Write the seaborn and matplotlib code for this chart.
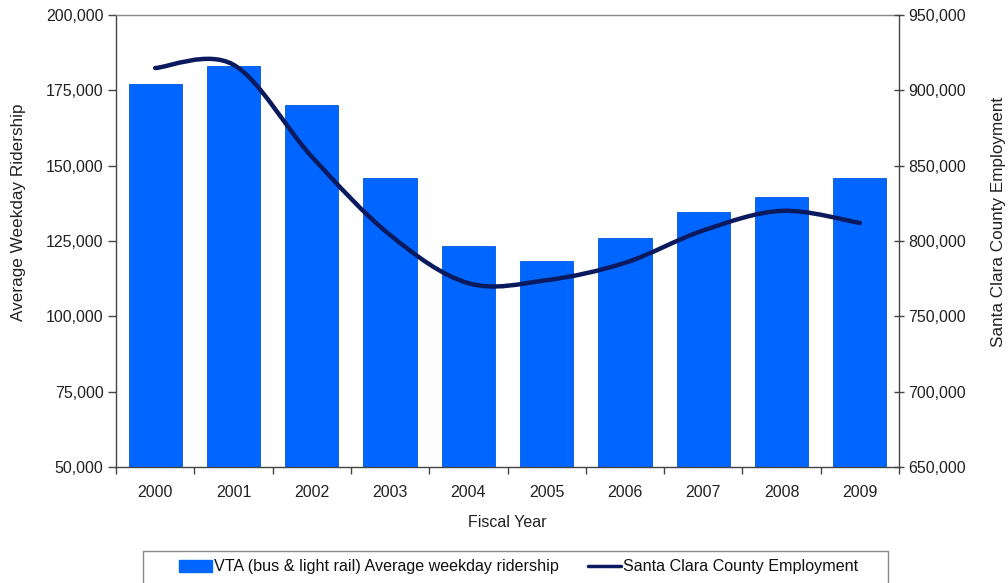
import numpy as np
import pandas as pd
import matplotlib
matplotlib.use("Agg")
import matplotlib.pyplot as plt
from matplotlib.path import Path
from matplotlib.patches import PathPatch, Patch, Rectangle
from matplotlib.lines import Line2D
from matplotlib.ticker import FuncFormatter, MultipleLocator
import seaborn as sns

years = ["2000", "2001", "2002", "2003", "2004", "2005", "2006", "2007", "2008", "2009"]
ridership = [177100, 183100, 170100, 145900, 123300, 118400, 126000, 134600, 139600, 145900]
employment = [914800, 917000, 856000, 804000, 772000, 774000, 785500, 807000, 820000, 812000]

bar_label = "VTA (bus & light rail) Average weekday ridership"
line_label = "Santa Clara County Employment"

sns.set_theme(style="white")
plt.rcParams['font.family'] = ['Liberation Sans', 'DejaVu Sans']

W, H = 1008, 583
fig = plt.figure(figsize=(W / 100, H / 100), dpi=100)
ax = fig.add_axes([116 / W, 1 - 467 / H, 783 / W, 452 / H])

tick_fs = 11.5
df = pd.DataFrame({"year": years, "ridership": ridership})
bar_color = "#0066FF"
sns.barplot(data=df, x="year", y="ridership", color=bar_color, saturation=1,
            width=0.68, ax=ax, edgecolor="#0058E0", linewidth=0.6)

ax.set_ylim(50000, 200000)
ax.set_xlim(-0.5, len(years) - 0.5)
ax.yaxis.set_major_locator(MultipleLocator(25000))
fmt = FuncFormatter(lambda v, p: f"{int(v):,}")
ax.yaxis.set_major_formatter(fmt)
ax.set_xticks(np.arange(len(years) + 1) - 0.5, minor=True)
ax.set_xticks(np.arange(len(years)))
ax.set_xticklabels(years)
ax.tick_params(axis="x", which="major", length=0, pad=13, labelsize=tick_fs, colors="#222222")
ax.tick_params(axis="x", which="minor", length=5, width=1, direction="out", color="#444444", bottom=True)
ax.tick_params(axis="y", length=6, width=1, direction="out", left=True, labelsize=tick_fs,
               colors="#222222", color="#444444", pad=3)
ax.set_xlabel("Fiscal Year", fontsize=tick_fs, labelpad=11, color="#222222")
ax.set_ylabel("Average Weekday Ridership", fontsize=12.3, color="#222222", va="center")
ax.yaxis.set_label_coords((19 - 116) / 783, (467 - 212) / 452)

for s in ["left", "bottom", "right"]:
    ax.spines[s].set_color("#444444")
    ax.spines[s].set_linewidth(1)
ax.spines["top"].set_color("#888888")
ax.spines["top"].set_linewidth(1)

ax2 = ax.twinx()
ax2.set_ylim(650000, 950000)
ax2.yaxis.set_major_locator(MultipleLocator(50000))
ax2.yaxis.set_major_formatter(fmt)
ax2.tick_params(axis="y", length=7, width=1, direction="inout", right=True, labelsize=tick_fs,
                colors="#222222", color="#444444", pad=3)
ax2.set_ylabel("Santa Clara County Employment", fontsize=12.3, color="#222222",
               rotation=90, va="center")
ax2.yaxis.set_label_coords((999 - 116) / 783, (467 - 222) / 452)
for s in ax2.spines.values():
    s.set_visible(False)
ax2.grid(False)

# smooth line through data points (Catmull-Rom as cubic Bezier segments)
xs = np.arange(len(years), dtype=float)
ys = np.array(employment, dtype=float)
pts = np.column_stack([xs, ys])
verts = [tuple(pts[0])]
codes = [Path.MOVETO]
n = len(pts)
for i in range(n - 1):
    p0 = pts[i - 1] if i > 0 else pts[i]
    p1 = pts[i]
    p2 = pts[i + 1]
    p3 = pts[i + 2] if i + 2 < n else pts[i + 1]
    c1 = p1 + (p2 - p0) / 6.0
    c2 = p2 - (p3 - p1) / 6.0
    verts += [tuple(c1), tuple(c2), tuple(p2)]
    codes += [Path.CURVE4] * 3
line_color = "#0B1A5E"
patch = PathPatch(Path(verts, codes), facecolor="none", edgecolor=line_color, lw=3.2,
                  capstyle="round", joinstyle="round")
ax2.add_patch(patch)

# legend box (extends below the figure edge as in the reference)
fig.patches.append(Rectangle((143 / W, -0.05), 745 / W, (H - 551) / H + 0.05,
                             transform=fig.transFigure, fill=False,
                             edgecolor="#888888", linewidth=1))
handles = [Patch(facecolor=bar_color, edgecolor=bar_color),
           Line2D([0], [0], color=line_color, lw=2.5)]
leg = fig.legend(handles, [bar_label, line_label], loc="center",
                 bbox_to_anchor=(518.5 / W, 1 - 567 / H),
                 ncol=2, frameon=False, fontsize=11.6, handlelength=2.05,
                 handleheight=0.7, handletextpad=0.12, columnspacing=1.85, borderpad=0)
for t in leg.get_texts():
    t.set_color("#111111")

fig.savefig("out.png", dpi=100)
